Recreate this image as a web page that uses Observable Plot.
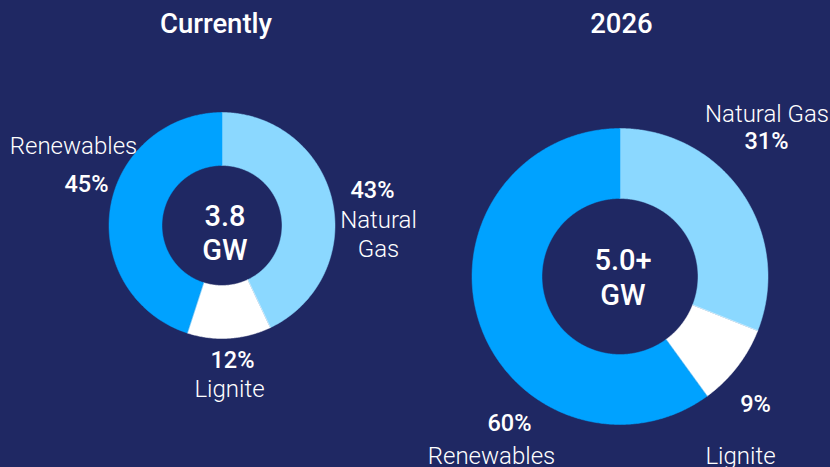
<!DOCTYPE html>
<html>
<head>
<meta charset="utf-8">
<script src="https://cdn.jsdelivr.net/npm/d3@7"></script>
<script src="https://cdn.jsdelivr.net/npm/@observablehq/plot@0.6"></script>
<style>
  html, body { margin: 0; padding: 0; background: #1f2863; }
  #chart { width: 830px; height: 467px; }
</style>
</head>
<body>
<div id="chart"></div>
<script>
// ---- Data ----
const panels = ["Currently", "2026"];
const fuels = ["Natural Gas", "Lignite", "Renewables"];
const sharesCurrent = [43, 12, 45];
const shares2026 = [31, 9, 60];
const totalValues = ["3.8", "5.0+"];
const totalUnit = "GW";

// ---- Layout (positions / sizes / styles) ----
const W = 830, H = 467;
const colors = {"Natural Gas": "#8bd8ff", "Lignite": "#ffffff", "Renewables": "#00a2ff"};
const donutGeom = [
  {cx: 221.5, cy: 225, R: 113, r: 60, titleX: 215.5},
  {cx: 619.5, cy: 276, R: 148, r: 78, titleX: 621}
];
const labelLayout = [
  {
    "Natural Gas": {pct: [372, 197], name: [[378, 227, "Natural"], [378, 256, "Gas"]]},
    "Lignite": {pct: [232, 367], name: [[229, 396, "Lignite"]]},
    "Renewables": {pct: [86, 191], name: [[73, 153, "Renewables"]]}
  },
  {
    "Natural Gas": {pct: [766, 148], name: [[766.5, 121, "Natural Gas"]]},
    "Lignite": {pct: [755, 411], name: [[740, 463, "Lignite"]]},
    "Renewables": {pct: [509, 430], name: [[491, 463, "Renewables"]]}
  }
];
const centerY = [[225, 259], [269, 304]];

// ---- Build arc polygons from data ----
const allShares = [sharesCurrent, shares2026];
const polys = [];
allShares.forEach((shares, p) => {
  const g = donutGeom[p];
  const total = d3.sum(shares);
  let acc = 0;
  shares.forEach((v, i) => {
    const a0 = acc / total * 2 * Math.PI;
    acc += v;
    const a1 = acc / total * 2 * Math.PI;
    const n = Math.max(4, Math.ceil((a1 - a0) / (Math.PI / 360)));
    const key = panels[p] + "-" + fuels[i];
    for (let k = 0; k <= n; k++) {
      const a = a0 + (a1 - a0) * k / n;
      polys.push({key, fuel: fuels[i], x: g.cx + g.R * Math.sin(a), y: g.cy - g.R * Math.cos(a)});
    }
    for (let k = n; k >= 0; k--) {
      const a = a0 + (a1 - a0) * k / n;
      polys.push({key, fuel: fuels[i], x: g.cx + g.r * Math.sin(a), y: g.cy - g.r * Math.cos(a)});
    }
  });
});

// ---- Text rows ----
const titles = panels.map((t, p) => ({text: t, x: donutGeom[p].titleX, y: 32}));
const pctRows = [], nameRows = [];
allShares.forEach((shares, p) => {
  shares.forEach((v, i) => {
    const L = labelLayout[p][fuels[i]];
    pctRows.push({text: v + "%", x: L.pct[0], y: L.pct[1]});
    L.name.forEach(([x, y, t]) => nameRows.push({text: t, x, y}));
  });
});
const centerRows = [];
totalValues.forEach((v, p) => {
  centerRows.push({text: v, x: donutGeom[p].cx + 3, y: centerY[p][0]});
  centerRows.push({text: totalUnit, x: donutGeom[p].cx + 3, y: centerY[p][1]});
});

const chart = Plot.plot({
  width: W, height: H,
  margin: 0,
  style: {background: "#1f2863", fontFamily: "Roboto, sans-serif", overflow: "visible"},
  x: {domain: [0, W], range: [0, W], axis: null},
  y: {domain: [0, H], range: [0, H], axis: null},
  color: {domain: fuels, range: fuels.map(f => colors[f])},
  marks: [
    Plot.line(polys, {x: "x", y: "y", z: "key", fill: "fuel", stroke: "fuel", strokeWidth: 0.5, curve: "linear-closed"}),
    Plot.text(titles, {x: "x", y: "y", text: "text", fill: "white", fontSize: 27.5, fontWeight: 500, lineAnchor: "bottom"}),
    Plot.text(pctRows, {x: "x", y: "y", text: "text", fill: "white", fontSize: 23.5, fontWeight: 500, lineAnchor: "bottom"}),
    Plot.text(nameRows, {x: "x", y: "y", text: "text", fill: "white", fontSize: 24, fontWeight: 300, lineAnchor: "bottom"}),
    Plot.text(centerRows, {x: "x", y: "y", text: "text", fill: "white", fontSize: 29, fontWeight: 500, lineAnchor: "bottom"})
  ]
});
document.getElementById("chart").appendChild(chart);
</script>
</body>
</html>
